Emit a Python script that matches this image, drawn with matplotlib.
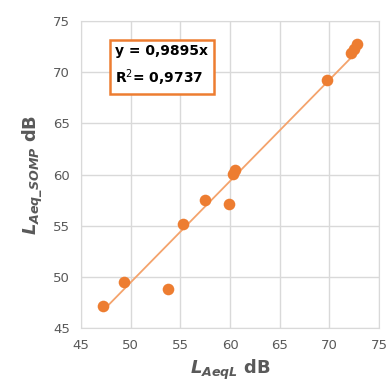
import numpy as np
import matplotlib.pyplot as plt

# measured levels, dB
laeq_l = [47.2, 49.3, 53.7, 55.3, 57.5, 59.9, 60.3, 60.5, 69.8, 72.2, 72.5, 72.8]
laeq_somp = [47.15, 49.5, 48.8, 55.2, 57.5, 57.1, 60.1, 60.4, 69.2, 71.9, 72.3, 72.8]
slope = 0.9895
r2_text = "0,9737"
ticks = [45, 50, 55, 60, 65, 70, 75]

orange = "#ED7D31"
grey = "#595959"
grid = "#D9D9D9"

fig = plt.figure(figsize=(3.92, 3.91), dpi=100)
ax = fig.add_axes([0.207, 0.161, 0.76, 0.785])

ax.scatter(laeq_l, laeq_somp, s=70, color=orange, zorder=3, linewidths=0)
xf = np.array([min(laeq_l), max(laeq_l)])
ax.plot(xf, slope * xf, color="#F4A36C", lw=1.3, zorder=2)

ax.set_xlim(45, 75)
ax.set_ylim(45, 75)
ax.set_xticks(ticks)
ax.set_yticks(ticks)
ax.grid(True, color=grid, lw=1)
ax.set_axisbelow(True)
for s in ax.spines.values():
    s.set_color(grid)
ax.tick_params(length=0, labelsize=9.5, labelcolor=grey, pad=8)

ax.set_xlabel(r"$\mathbfit{L}_{\mathbfit{AeqL}}$ $\mathbf{dB}$", fontsize=13, color=grey, labelpad=4)
ax.set_ylabel(r"$\mathbfit{L}_{\mathbfit{Aeq\_SOMP}}$ $\mathbf{dB}$", fontsize=13, color=grey, labelpad=6)

ax.text(0.115, 0.925, "y = 0,9895x\nR$^2$= " + r2_text, transform=ax.transAxes,
        fontsize=10, fontweight="bold", color="black", va="top", ha="left",
        linespacing=1.6,
        bbox=dict(boxstyle="square,pad=0.42", fc="white", ec=orange, lw=1.8))

fig.savefig("out.png", dpi=100)
